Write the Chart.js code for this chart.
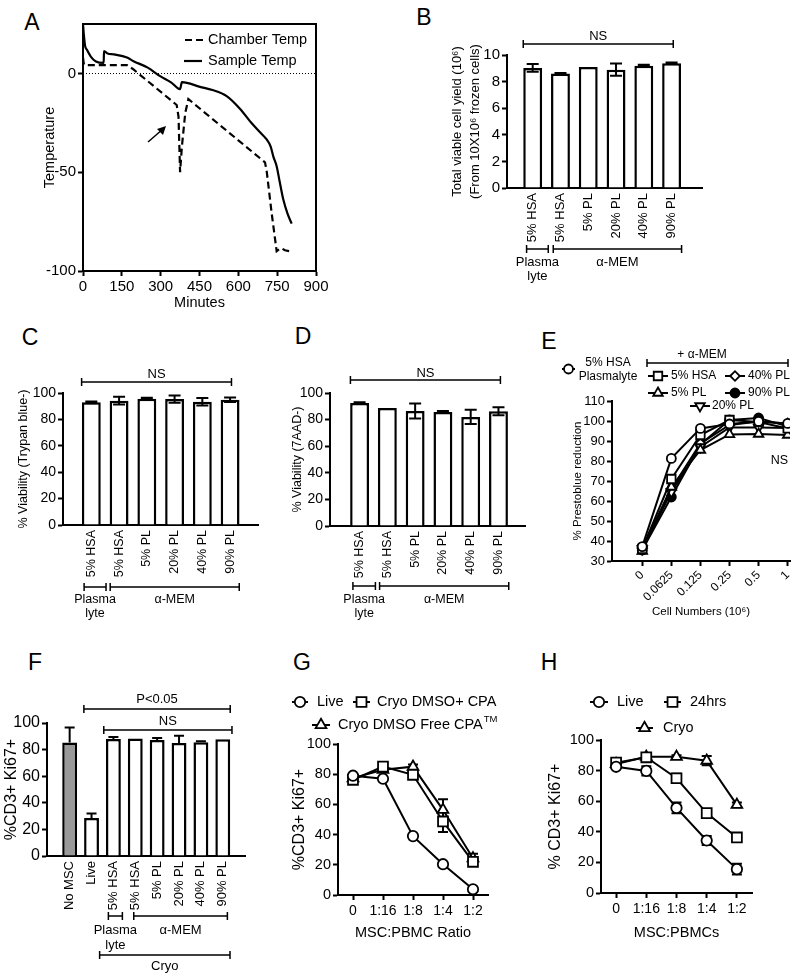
<!DOCTYPE html>
<html>
<head>
<meta charset="utf-8">
<script src="https://cdn.jsdelivr.net/npm/chart.js"></script>
<style>
  body { margin: 0; background: #fff; }
  #page { position: relative; width: 800px; height: 978px; overflow: hidden; background: #fff;
          font-family: "Liberation Sans", Arial, Helvetica, sans-serif; }
  canvas { position: absolute; }
  .tag { position: absolute; font-size: 23px; line-height: 23px; transform: translate(-50%, -50%); color: #000; }
</style>
</head>
<body>
<div id="page">
  <div class="tag" style="left:32px;top:22px">A</div>
  <div class="tag" style="left:424px;top:17px">B</div>
  <div class="tag" style="left:30px;top:337px">C</div>
  <div class="tag" style="left:303px;top:336px">D</div>
  <div class="tag" style="left:549px;top:341px">E</div>
  <div class="tag" style="left:35px;top:662px">F</div>
  <div class="tag" style="left:302px;top:662px">G</div>
  <div class="tag" style="left:549px;top:662px">H</div>

  <canvas id="chA" width="400" height="320" style="left:0;top:0"></canvas>
  <canvas id="chB" width="400" height="320" style="left:400px;top:0"></canvas>
  <canvas id="chC" width="270" height="300" style="left:0;top:325px"></canvas>
  <canvas id="chD" width="270" height="300" style="left:270px;top:325px"></canvas>
  <canvas id="chE" width="260" height="300" style="left:540px;top:325px"></canvas>
  <canvas id="chF" width="270" height="338" style="left:0;top:640px"></canvas>
  <canvas id="chG" width="270" height="338" style="left:270px;top:640px"></canvas>
  <canvas id="chH" width="260" height="338" style="left:540px;top:640px"></canvas>
</div>
<script>
// ---- A: controlled rate freezing profile (minutes, deg C)
var chamberMin  = [0, 3, 6, 170, 195, 362, 369, 375, 382, 395, 407, 703, 710, 729, 748, 758, 767, 780, 800];
var chamberTemp = [8, 5, 4.2, 4.2, 2, -16, -22, -50, -37, -20, -13, -45, -50, -71, -90, -89, -88.5, -89.5, -90];
var sampleMin  = [0, 3, 8, 15, 30, 50, 80, 81, 95, 120, 170, 195, 250, 298, 340, 375, 382, 452, 500, 555, 607, 650, 700, 710, 725, 735, 748, 760, 774, 790, 806];
var sampleTemp = [25, 20, 14, 12, 8.5, 6, 5.3, 11.3, 10.1, 9.6, 8, 6.2, 2.9, -1.4, -4.5, -8, -4.4, -6.8, -8.4, -11.5, -18, -25, -32, -33.5, -37, -42, -47, -55, -64, -71, -76];

// ---- B, C, D: cryopreservation media
var mediaLabels = ["5% HSA", "5% HSA", "5% PL", "20% PL", "40% PL", "90% PL"];
var yieldMean  = [9.03, 8.6, 9.1, 8.9, 9.2, 9.38];
var yieldErr   = [0.29, 0.05, 0, 0.46, 0.06, 0.06];
var trypanMean = [92.9, 94.2, 95.7, 95.4, 93.4, 94.9];
var trypanErr  = [0.6, 2.9, 0.7, 2.8, 2.8, 1.7];
var aadMean    = [92.5, 88.7, 86.5, 85.7, 82, 86.3];
var aadErr     = [0.5, 0, 5.6, 0.8, 5.4, 3];

// ---- E: prestoblue
var cellNumbers     = ["0", "0.0625", "0.125", "0.25", "0.5", "1"];
var prestoPlasmaHSA = [37.2, 81.3, 96.3, 98.5, 99.8, 98.8];
var prestoHSA       = [36, 71, 93, 100.5, 99.5, 96.3];
var presto5PL       = [35, 67, 85.5, 93.3, 93.5, 93];
var presto20PL      = [36, 64.5, 87, 96.8, 96.8, 96.5];
var presto40PL      = [36.5, 66, 88.8, 98, 99.7, 98.8];
var presto90PL      = [35.5, 62, 88.3, 100.5, 101.5, 97.3];

// ---- F: T cell proliferation
var mlrLabels = ["No MSC", "Live", "5% HSA", "5% HSA", "5% PL", "20% PL", "40% PL", "90% PL"];
var mlrMean   = [85.4, 28.6, 87.9, 88.4, 87.2, 84.9, 85.5, 87.7];
var mlrErr    = [11.3, 3.3, 1.5, 0, 1.5, 5.6, 0.8, 0];

// ---- G, H: MSC:PBMC titration
var ratioLabels = ["0", "1:16", "1:8", "1:4", "1:2"];
var gLive    = [79, 77, 39, 20.4, 3.8];
var gLiveErr = [1, 1, 1, 1, 1];
var gDmso    = [76.3, 85, 79.6, 48.7, 22];
var gDmsoErr = [1.5, 1.5, 2, 7, 2];
var gFree    = [77.4, 83, 85, 56.4, 24.3];
var gFreeErr = [1, 1, 1.5, 7, 3];

var hLive    = [82.5, 79.8, 55.6, 34.3, 15.6];
var hLiveErr = [1, 3, 3.5, 3, 3.5];
var h24      = [85.2, 88.7, 75, 52.2, 36.3];
var h24Err   = [1, 2, 3, 1, 1.5];
var hCryo    = [84.3, 89, 89, 86.5, 57.6];
var hCryoErr = [1, 1, 1, 3, 1.5];

var FONT = '"Liberation Sans", Arial, Helvetica, sans-serif';
Chart.defaults.font.family = FONT;
Chart.defaults.color = '#000';
Chart.defaults.animation = false;
Chart.defaults.responsive = false;
Chart.defaults.plugins.legend.display = false;
Chart.defaults.plugins.tooltip.enabled = false;

function pts(vals) {
  return vals.map(function (v, i) { return {x: i, y: v}; });
}

// left axis with a fixed width so the plot box lands where we want it
function yAxis(o) {
  var lh = o.lh || 1.2;
  return {
    type: 'linear', position: 'left', min: o.min, max: o.max,
    ticks: {stepSize: o.step, font: {size: o.size}, padding: 2, includeBounds: false},
    grid: {drawOnChartArea: false, tickLength: 5, tickWidth: 2, tickColor: '#000'},
    border: {color: '#000', width: 2},
    title: {display: true, text: o.title, font: {size: o.titleSize, lineHeight: lh},
            padding: {top: o.titleX - o.titleSize * lh / 2, bottom: 0}},
    afterFit: function (s) { s.width = o.width; }
  };
}

// bar x axis: linear index scale so the first bar can sit on the y axis
function xBars(o) {
  return {
    type: 'linear', min: o.min, max: o.max,
    afterBuildTicks: function (s) { s.ticks = o.labels.map(function (l, i) { return {value: i}; }); },
    ticks: {autoSkip: false, minRotation: 90, maxRotation: 90, font: {size: o.size}, padding: 5,
            callback: function (v) { return o.labels[v]; }},
    grid: {drawOnChartArea: false, drawTicks: false},
    border: {color: '#000', width: 2},
    afterFit: function (s) { s.height = o.height; }
  };
}

function barSet(vals, color) {
  return {data: pts(vals), backgroundColor: color || '#fff', borderColor: '#000', borderWidth: 2.5,
          categoryPercentage: 1, barPercentage: 0.68};
}

function lineSet(vals, style, radius, fill, rot) {
  return {data: vals, borderColor: '#000', borderWidth: 2, tension: 0,
          pointStyle: style, pointRadius: radius, pointRotation: rot || 0,
          pointBackgroundColor: fill || '#fff', pointBorderColor: '#000', pointBorderWidth: 1.8};
}

function errorBars(errs, opts) {
  var p = {id: 'errorBars'};
  p[opts.under ? 'beforeDatasetsDraw' : 'afterDatasetsDraw'] = function (chart) {
    var ctx = chart.ctx, ys = chart.scales.y;
    ctx.save();
    ctx.strokeStyle = '#000';
    ctx.lineWidth = opts.width || 2;
    errs.forEach(function (err, di) {
      if (!err) return;
      var data = chart.data.datasets[di].data;
      chart.getDatasetMeta(di).data.forEach(function (el, i) {
        var e = err[i];
        if (!e) return;
        var v = typeof data[i] === 'object' ? data[i].y : data[i];
        var top = ys.getPixelForValue(v + e);
        var bot = ys.getPixelForValue(opts.upOnly ? v : v - e);
        var c = opts.cap;
        ctx.beginPath();
        ctx.moveTo(el.x, top); ctx.lineTo(el.x, bot);
        ctx.moveTo(el.x - c, top); ctx.lineTo(el.x + c, top);
        if (!opts.upOnly) { ctx.moveTo(el.x - c, bot); ctx.lineTo(el.x + c, bot); }
        ctx.stroke();
      });
    });
    ctx.restore();
  };
  return p;
}

function txt(ctx, s, x, y, size, align) {
  ctx.save();
  ctx.fillStyle = '#000';
  ctx.font = size + 'px ' + FONT;
  ctx.textAlign = align || 'center';
  ctx.textBaseline = 'middle';
  ctx.fillText(s, x, y);
  ctx.restore();
}

function bracket(ctx, x1, x2, y, h) {
  ctx.save();
  ctx.strokeStyle = '#000';
  ctx.lineWidth = 1.5;
  ctx.beginPath();
  ctx.moveTo(x1, y); ctx.lineTo(x2, y);
  ctx.moveTo(x1, y - h); ctx.lineTo(x1, y + h);
  ctx.moveTo(x2, y - h); ctx.lineTo(x2, y + h);
  ctx.stroke();
  ctx.restore();
}

function legendMark(ctx, x1, x2, y, style, radius, fill, rot) {
  ctx.save();
  ctx.strokeStyle = '#000';
  ctx.lineWidth = 2;
  ctx.beginPath();
  ctx.moveTo(x1, y); ctx.lineTo(x2, y);
  ctx.stroke();
  ctx.fillStyle = fill || '#fff';
  ctx.lineWidth = 1.8;
  Chart.helpers.drawPoint(ctx, {pointStyle: style, radius: radius, rotation: rot || 0, borderWidth: 1.8},
                          (x1 + x2) / 2, y);
  ctx.restore();
}

// labels under the bars: Plasma lyte / alpha-MEM groups
function mediaGroups(ctx, xs, y, ty) {
  bracket(ctx, xs.getPixelForValue(y.p1), xs.getPixelForValue(y.p2), y.y, 4);
  bracket(ctx, xs.getPixelForValue(y.m1), xs.getPixelForValue(y.m2), y.y, 4);
  var pc = (xs.getPixelForValue(y.p1) + xs.getPixelForValue(y.p2)) / 2;
  var mc = (xs.getPixelForValue(y.m1) + xs.getPixelForValue(y.m2)) / 2;
  txt(ctx, 'Plasma', pc, ty, y.size);
  txt(ctx, 'lyte', pc, ty + 14, y.size);
  txt(ctx, '\u03b1-MEM', mc, ty, y.size);
}

// ================= A =================
new Chart(document.getElementById('chA'), {
  type: 'line',
  data: {datasets: [
    {data: chamberMin.map(function (m, i) { return {x: m, y: chamberTemp[i]}; }),
     borderColor: '#000', borderWidth: 2.2, borderDash: [7, 4], pointRadius: 0, tension: 0},
    {data: sampleMin.map(function (m, i) { return {x: m, y: sampleTemp[i]}; }),
     borderColor: '#000', borderWidth: 2.2, pointRadius: 0, cubicInterpolationMode: 'monotone'}
  ]},
  options: {
    layout: {padding: {top: 24, right: 84, left: 0, bottom: 0}},
    scales: {
      x: {type: 'linear', min: 0, max: 900,
          ticks: {stepSize: 150, font: {size: 15}, padding: 2},
          grid: {drawOnChartArea: false, tickLength: 5, tickWidth: 2, tickColor: '#000'},
          border: {color: '#000', width: 2},
          title: {display: true, text: 'Minutes', font: {size: 14.5}, padding: {top: 0, bottom: 8}},
          afterFit: function (s) { s.height = 49; }},
      y: yAxis({min: -100, max: 25, step: 50, size: 15, title: 'Temperature', titleSize: 14.5, titleX: 50, width: 83})
    }
  },
  plugins: [{
    id: 'decorA',
    afterDraw: function (chart) {
      var ctx = chart.ctx, a = chart.chartArea, ys = chart.scales.y;
      ctx.save();
      ctx.strokeStyle = '#000';
      ctx.lineWidth = 2;
      ctx.strokeRect(a.left, a.top, a.right - a.left, a.bottom - a.top);
      var y0 = Math.round(ys.getPixelForValue(0)) + 0.5;
      ctx.lineWidth = 1;
      ctx.setLineDash([1, 2]);
      ctx.beginPath(); ctx.moveTo(a.left, y0); ctx.lineTo(a.right, y0); ctx.stroke();
      ctx.setLineDash([]);
      // arrow pointing at the chamber spike
      ctx.lineWidth = 1.5;
      ctx.beginPath(); ctx.moveTo(148, 142); ctx.lineTo(163, 129); ctx.stroke();
      ctx.beginPath(); ctx.moveTo(166, 126); ctx.lineTo(157, 129); ctx.lineTo(163, 135); ctx.closePath(); ctx.fill();
      // legend
      ctx.lineWidth = 2.2;
      ctx.setLineDash([7, 4]);
      ctx.beginPath(); ctx.moveTo(185, 40); ctx.lineTo(204, 40); ctx.stroke();
      ctx.setLineDash([]);
      ctx.beginPath(); ctx.moveTo(184, 61); ctx.lineTo(202, 61); ctx.stroke();
      ctx.restore();
      txt(ctx, 'Chamber Temp', 208, 40, 14.5, 'left');
      txt(ctx, 'Sample Temp', 208, 61, 14.5, 'left');
    }
  }]
});

// ================= B =================
new Chart(document.getElementById('chB'), {
  type: 'bar',
  data: {datasets: [barSet(yieldMean)]},
  options: {
    layout: {padding: {top: 55, right: 98, left: 0, bottom: 0}},
    scales: {
      x: xBars({labels: mediaLabels, min: -0.34, max: 5.51, size: 13, height: 132}),
      y: yAxis({min: 0, max: 10, step: 2, size: 15, lh: 1.38,
                title: ['Total viable cell yield (10\u2076)', '(From 10X10\u2076 frozen cells)'],
                titleSize: 13, titleX: 57, width: 107})
    }
  },
  plugins: [errorBars([yieldErr], {cap: 6}), {
    id: 'decorB',
    afterDraw: function (chart) {
      var ctx = chart.ctx, xs = chart.scales.x;
      bracket(ctx, xs.getPixelForValue(-0.34), xs.getPixelForValue(5.06), 44, 4);
      txt(ctx, 'NS', xs.getPixelForValue(2.36), 36, 13);
      mediaGroups(ctx, xs, {p1: -0.22, p2: 0.56, m1: 0.74, m2: 5.36, y: 249, size: 13}, 262);
    }
  }]
});

// ================= C =================
new Chart(document.getElementById('chC'), {
  type: 'bar',
  data: {datasets: [barSet(trypanMean)]},
  options: {
    layout: {padding: {top: 68, right: 12, left: 0, bottom: 0}},
    scales: {
      x: xBars({labels: mediaLabels, min: -0.435, max: 5.42, size: 12.5, height: 100}),
      y: yAxis({min: 0, max: 100, step: 20, size: 14, title: '% Viability (Trypan blue-)',
                titleSize: 12.5, titleX: 24, width: 63})
    }
  },
  plugins: [errorBars([trypanErr], {cap: 6}), {
    id: 'decorC',
    afterDraw: function (chart) {
      var ctx = chart.ctx, xs = chart.scales.x;
      bracket(ctx, xs.getPixelForValue(-0.35), xs.getPixelForValue(5.05), 57, 4);
      txt(ctx, 'NS', xs.getPixelForValue(2.35), 49, 13);
      mediaGroups(ctx, xs, {p1: -0.26, p2: 0.53, m1: 0.68, m2: 5.33, y: 262, size: 12.5}, 275);
    }
  }]
});

// ================= D =================
new Chart(document.getElementById('chD'), {
  type: 'bar',
  data: {datasets: [barSet(aadMean)]},
  options: {
    layout: {padding: {top: 68, right: 15, left: 0, bottom: 0}},
    scales: {
      x: xBars({labels: mediaLabels, min: -0.48, max: 5.37, size: 12.5, height: 99}),
      y: yAxis({min: 0, max: 100, step: 20, size: 14, title: '% Viability (7AAD-)',
                titleSize: 12.5, titleX: 27.5, width: 60})
    }
  },
  plugins: [errorBars([aadErr], {cap: 6}), {
    id: 'decorD',
    afterDraw: function (chart) {
      var ctx = chart.ctx, xs = chart.scales.x;
      bracket(ctx, xs.getPixelForValue(-0.33), xs.getPixelForValue(5.07), 55, 4);
      txt(ctx, 'NS', xs.getPixelForValue(2.37), 48, 13);
      mediaGroups(ctx, xs, {p1: -0.24, p2: 0.57, m1: 0.72, m2: 5.37, y: 261, size: 12.5}, 275);
    }
  }]
});

// ================= E =================
new Chart(document.getElementById('chE'), {
  type: 'line',
  data: {datasets: [
    lineSet(pts(prestoPlasmaHSA), 'circle', 4.5),
    lineSet(pts(prestoHSA), 'rect', 6),
    lineSet(pts(presto5PL), 'triangle', 5.5),
    lineSet(pts(presto20PL), 'triangle', 5.5, '#fff', 180),
    lineSet(pts(presto40PL), 'rectRot', 4.8),
    lineSet(pts(presto90PL), 'circle', 4.5, '#000')
  ]},
  options: {
    layout: {padding: {top: 76, right: 10, left: 0, bottom: 0}},
    scales: {
      x: {type: 'linear', min: -1.04, max: 5.08,
          afterBuildTicks: function (s) { s.ticks = cellNumbers.map(function (l, i) { return {value: i}; }); },
          ticks: {autoSkip: false, minRotation: 45, maxRotation: 45, font: {size: 12}, padding: 2,
                  callback: function (v) { return cellNumbers[v]; }},
          grid: {drawOnChartArea: false, tickLength: 5, tickWidth: 2, tickColor: '#000'},
          border: {color: '#000', width: 2},
          title: {display: true, text: 'Cell Numbers (10\u2076)', font: {size: 11.5}, padding: {top: 0, bottom: 6.4}},
          afterFit: function (s) { s.height = 64; }},
      y: yAxis({min: 30, max: 110, step: 10, size: 13, title: '% Prestoblue reduction',
                titleSize: 11.5, titleX: 38, width: 72})
    }
  },
  plugins: [{
    id: 'decorE',
    afterDraw: function (chart) {
      var ctx = chart.ctx;
      legendMark(ctx, 22, 35, 44, 'circle', 4.5);
      txt(ctx, '5% HSA', 68, 38, 12);
      txt(ctx, 'Plasmalyte', 68, 52, 12);
      txt(ctx, '+ \u03b1-MEM', 162, 30, 12);
      bracket(ctx, 107, 248, 38, 4);
      legendMark(ctx, 108, 128, 51, 'rect', 6);
      txt(ctx, '5% HSA', 131, 51, 12, 'left');
      legendMark(ctx, 185, 205, 51, 'rectRot', 4.8);
      txt(ctx, '40% PL', 208, 51, 12, 'left');
      legendMark(ctx, 108, 128, 68, 'triangle', 5.5);
      txt(ctx, '5% PL', 131, 68, 12, 'left');
      legendMark(ctx, 185, 205, 68, 'circle', 4.5, '#000');
      txt(ctx, '90% PL', 208, 68, 12, 'left');
      legendMark(ctx, 150, 170, 81, 'triangle', 5.5, '#fff', 180);
      txt(ctx, '20% PL', 172, 81, 12, 'left');
      txt(ctx, 'NS', chart.chartArea.right - 2, chart.scales.y.getPixelForValue(80), 12.5, 'right');
    }
  }]
});

// ================= F =================
new Chart(document.getElementById('chF'), {
  type: 'bar',
  data: {datasets: [barSet(mlrMean, function (c) { return c.dataIndex === 0 ? '#999999' : '#fff'; })]},
  options: {
    layout: {padding: {top: 83, right: 25, left: 0, bottom: 0}},
    scales: {
      x: xBars({labels: mlrLabels, min: -0.47, max: 7.45, size: 13, height: 122}),
      y: yAxis({min: 0, max: 100, step: 20, size: 16, title: '%CD3+ Ki67+',
                titleSize: 16, titleX: 11.5, width: 47})
    }
  },
  plugins: [errorBars([mlrErr], {cap: 5, upOnly: true, under: true}), {
    id: 'decorF',
    afterDraw: function (chart) {
      var ctx = chart.ctx, xs = chart.scales.x;
      var px = function (v) { return xs.getPixelForValue(v); };
      bracket(ctx, px(0.65), px(7.34), 69, 4);
      txt(ctx, 'P<0.05', (px(0.65) + px(7.34)) / 2, 59, 13);
      bracket(ctx, px(1.56), px(7.42), 90, 4);
      txt(ctx, 'NS', (px(1.56) + px(7.42)) / 2, 81, 13);
      bracket(ctx, px(1.77), px(2.41), 276, 4);
      bracket(ctx, px(2.93), px(7.21), 276, 4);
      txt(ctx, 'Plasma', (px(1.77) + px(2.41)) / 2, 290, 13);
      txt(ctx, 'lyte', (px(1.77) + px(2.41)) / 2, 305, 13);
      txt(ctx, '\u03b1-MEM', (px(2.93) + px(7.21)) / 2, 290, 13);
      bracket(ctx, px(1.37), px(7.33), 315, 4);
      txt(ctx, 'Cryo', (px(1.37) + px(7.33)) / 2, 326, 13);
    }
  }]
});

// ================= G / H =================
function xRatio(title, height) {
  return {
    type: 'category', labels: ratioLabels, offset: true,
    ticks: {font: {size: 14}, padding: 3, autoSkip: false, minRotation: 0, maxRotation: 0},
    grid: {drawOnChartArea: false, offset: false, tickLength: 5, tickWidth: 2, tickColor: '#000'},
    border: {color: '#000', width: 2},
    title: {display: true, text: title, font: {size: 14.5}, padding: {top: 0, bottom: 36}},
    afterFit: function (s) { s.height = height; }
  };
}

new Chart(document.getElementById('chG'), {
  type: 'line',
  data: {labels: ratioLabels, datasets: [
    lineSet(gLive, 'circle', 5.2),
    lineSet(gDmso, 'rect', 7),
    lineSet(gFree, 'triangle', 6.2)
  ]},
  options: {
    layout: {padding: {top: 104, right: 52, left: 0, bottom: 0}},
    scales: {
      x: xRatio('MSC:PBMC Ratio', 83),
      y: yAxis({min: 0, max: 100, step: 20, size: 14.5, title: '%CD3+ Ki67+',
                titleSize: 16, titleX: 30, width: 68})
    }
  },
  plugins: [errorBars([gLiveErr, gDmsoErr, gFreeErr], {cap: 5, under: true}), {
    id: 'decorG',
    afterDraw: function (chart) {
      var ctx = chart.ctx;
      legendMark(ctx, 22, 38, 62, 'circle', 5.2);
      txt(ctx, 'Live', 47, 62, 14.5, 'left');
      legendMark(ctx, 83, 100, 62, 'rect', 7);
      txt(ctx, 'Cryo DMSO+ CPA', 107, 62, 14.5, 'left');
      legendMark(ctx, 42, 60, 85, 'triangle', 6.2);
      txt(ctx, 'Cryo DMSO Free CPA', 68, 85, 14.5, 'left');
      ctx.save();
      ctx.font = '14.5px ' + FONT;
      var w = ctx.measureText('Cryo DMSO Free CPA').width;
      ctx.restore();
      txt(ctx, 'TM', 68 + w + 1, 79, 9.5, 'left');
    }
  }]
});

new Chart(document.getElementById('chH'), {
  type: 'line',
  data: {labels: ratioLabels, datasets: [
    lineSet(hLive, 'circle', 5.2),
    lineSet(h24, 'rect', 7),
    lineSet(hCryo, 'triangle', 6.2)
  ]},
  options: {
    layout: {padding: {top: 100, right: 48, left: 0, bottom: 0}},
    scales: {
      x: xRatio('MSC:PBMCs', 85),
      y: yAxis({min: 0, max: 100, step: 20, size: 14.5, title: '% CD3+ Ki67+',
                titleSize: 16, titleX: 16, width: 61})
    }
  },
  plugins: [errorBars([hLiveErr, h24Err, hCryoErr], {cap: 5, under: true}), {
    id: 'decorH',
    afterDraw: function (chart) {
      var ctx = chart.ctx;
      legendMark(ctx, 50, 68, 62, 'circle', 5.2);
      txt(ctx, 'Live', 77, 62, 14.5, 'left');
      legendMark(ctx, 124, 141, 62, 'rect', 7);
      txt(ctx, '24hrs', 150, 62, 14.5, 'left');
      legendMark(ctx, 96, 113, 88, 'triangle', 6.2);
      txt(ctx, 'Cryo', 123, 88, 14.5, 'left');
    }
  }]
});
</script>
</body>
</html>
